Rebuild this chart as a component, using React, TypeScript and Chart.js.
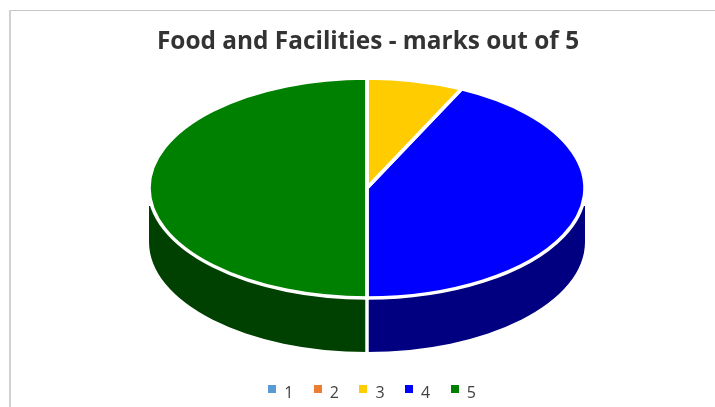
import React, { useEffect, useRef } from "react";
import { Chart, registerables } from "chart.js";

Chart.register(...registerables);

const categories = ["1", "2", "3", "4", "5"];
const marks = [0, 0, 1, 6, 7];
const topColors = ["#5B9BD5", "#ED7D31", "#FFCC00", "#0000FF", "#008000"];
const sideColors = ["#375E80", "#8E4B1D", "#997A00", "#000080", "#004000"];
const chartTitle = "Food and Facilities - marks out of 5";

const CENTER_X = 367;
const CENTER_Y = 188;
const RADIUS_X = 218;
const RADIUS_Y = 110;
const DEPTH = 54;
const GAP = 3.5;
const WALL_TOP = 206;

function tracePie(ctx: CanvasRenderingContext2D, start: number, end: number) {
  ctx.beginPath();
  ctx.moveTo(CENTER_X, CENTER_Y);
  ctx.ellipse(CENTER_X, CENTER_Y, RADIUS_X, RADIUS_Y, 0, start, end);
  ctx.closePath();
}

function swatch(color: string) {
  const c = document.createElement("canvas");
  c.width = 8;
  c.height = 16;
  const g = c.getContext("2d")!;
  g.fillStyle = color;
  g.fillRect(0, 0, 8, 8);
  return c;
}

const pie3d = {
  id: "pie3d",
  beforeDatasetsDraw(chart: any) {
    const ctx: CanvasRenderingContext2D = chart.ctx;
    const arcs = chart.getDatasetMeta(0).data;
    ctx.save();
    ctx.beginPath();
    ctx.rect(0, WALL_TOP, chart.width, chart.height);
    ctx.clip();
    const seams: number[] = [];
    arcs.forEach((arc: any, i: number) => {
      const s = Math.max(arc.startAngle, 0);
      const e = Math.min(arc.endAngle, Math.PI);
      if (marks[i] === 0 || e <= s) return;
      ctx.beginPath();
      ctx.ellipse(CENTER_X, CENTER_Y, RADIUS_X, RADIUS_Y, 0, s, e);
      ctx.ellipse(CENTER_X, CENTER_Y + DEPTH, RADIUS_X, RADIUS_Y, 0, e, s, true);
      ctx.closePath();
      ctx.fillStyle = sideColors[i];
      ctx.fill();
      if (e < Math.PI - 0.01) seams.push(e);
    });
    ctx.strokeStyle = "#FFFFFF";
    ctx.lineWidth = GAP;
    seams.forEach((e) => {
      const ex = CENTER_X + RADIUS_X * Math.cos(e);
      const ey = CENTER_Y + RADIUS_Y * Math.sin(e);
      ctx.beginPath();
      ctx.moveTo(ex, ey);
      ctx.lineTo(ex, ey + DEPTH);
      ctx.stroke();
    });
    ctx.restore();
    const a = arcs[0];
    ctx.save();
    ctx.translate(CENTER_X, CENTER_Y);
    ctx.scale(RADIUS_X / a.outerRadius, RADIUS_Y / a.outerRadius);
    ctx.translate(-a.x, -a.y);
  },
  afterDatasetsDraw(chart: any) {
    const ctx: CanvasRenderingContext2D = chart.ctx;
    ctx.restore();
    const arcs = chart.getDatasetMeta(0).data;
    ctx.save();
    ctx.strokeStyle = "#FFFFFF";
    ctx.lineWidth = GAP;
    arcs.forEach((arc: any, i: number) => {
      if (marks[i] === 0) return;
      tracePie(ctx, arc.startAngle, arc.endAngle);
      ctx.stroke();
    });
    ctx.restore();
  },
};

const frame = {
  id: "frame",
  afterLayout(chart: any) {
    chart.legend.left += 4;
    chart.legend.right += 4;
    chart.legend.top += 4;
    chart.legend.bottom += 4;
  },
  beforeDraw(chart: any) {
    const ctx: CanvasRenderingContext2D = chart.ctx;
    ctx.save();
    ctx.fillStyle = "#C8C8C8";
    ctx.fillRect(10, 10, chart.width - 10, 1);
    ctx.fillStyle = "#D0D0D0";
    ctx.fillRect(9, 10, 2, chart.height - 10);
    ctx.restore();
  },
};

export default function App() {
  const ref = useRef<HTMLCanvasElement>(null);
  useEffect(() => {
    const chart = new Chart(ref.current!, {
      type: "pie",
      data: {
        labels: categories,
        datasets: [{ data: marks, backgroundColor: topColors, borderWidth: 0 }],
      },
      options: {
        responsive: false,
        animation: false,
        rotation: 0,
        layout: { padding: { left: 21 } },
        plugins: {
          tooltip: { enabled: false },
          title: {
            display: true,
            text: chartTitle,
            color: "#333333",
            font: { family: "Open Sans", size: 24.4, weight: "bold" },
            padding: { top: 27, bottom: 10 },
          },
          legend: {
            position: "bottom",
            labels: {
              usePointStyle: true,
              boxWidth: 8,
              boxHeight: 8,
              color: "#404040",
              font: { family: "Open Sans", size: 16 },
              padding: 20.5,
              generateLabels(c: any) {
                const base = (Chart as any).overrides.pie.plugins.legend.labels.generateLabels(c);
                return base.map((item: any, i: number) => ({
                  ...item,
                  hidden: false,
                  pointStyle: swatch(topColors[i]),
                }));
              },
            },
          },
        },
      },
      plugins: [frame, pie3d],
    } as any);
    return () => chart.destroy();
  }, []);
  return (
    <canvas
      ref={ref}
      width={715}
      height={407}
      style={{ position: "fixed", left: 0, top: 0, display: "block" }}
    />
  );
}
